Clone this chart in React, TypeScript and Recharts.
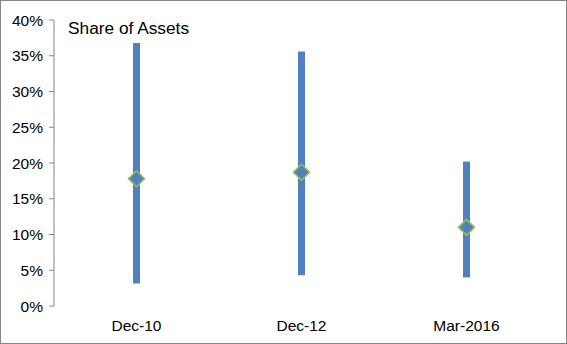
import { Bar, ComposedChart, Scatter, XAxis, YAxis } from 'recharts';

const periods = ['Dec-10', 'Dec-12', 'Mar-2016'];
const lowShare = [3.15, 4.3, 4.0];
const highShare = [36.8, 35.6, 20.2];
const midShare = [17.8, 18.7, 11.0];
const yTicks = [0, 5, 10, 15, 20, 25, 30, 35, 40];
const boundaryTicks = [0, 1, 2, 3];

const chartData = periods.map((label, i) => ({
  label,
  range: [lowShare[i], highShare[i]],
  mid: midShare[i],
}));

const axisGray = '#868686';
const font = '"Liberation Sans", Arial, sans-serif';

function Diamond(props: any) {
  const { cx, cy } = props;
  if (cx == null || cy == null) return null;
  const r = 8;
  return (
    <path
      d={`M${cx},${cy - r}L${cx + r},${cy}L${cx},${cy + r}L${cx - r},${cy}Z`}
      fill="#4F81BD"
      stroke="#9BBB59"
      strokeWidth={1.6}
    />
  );
}

export default function App() {
  return (
    <div
      style={{
        position: 'absolute',
        left: 0,
        top: 0,
        width: 567,
        height: 344,
        boxSizing: 'border-box',
        border: `1px solid ${axisGray}`,
        background: '#fff',
        fontFamily: font,
      }}
    >
      <style>{'body{margin:0}'}</style>
      <div
        style={{
          position: 'absolute',
          left: 67,
          top: 19,
          fontSize: 17.3,
          lineHeight: '17px',
          color: '#000',
          whiteSpace: 'nowrap',
        }}
      >
        Share of Assets
      </div>
      <ComposedChart
        width={567}
        height={344}
        data={chartData}
        margin={{ top: 20, right: 18, left: 0, bottom: 7 }}
        style={{ position: 'absolute', left: -1, top: -1 }}
      >
        <XAxis
          xAxisId="grid"
          type="number"
          domain={[0, 3]}
          ticks={boundaryTicks}
          tickFormatter={() => ''}
          stroke={axisGray}
          tickSize={5}
          height={0}
          allowDataOverflow
        />
        <XAxis
          xAxisId="cat"
          dataKey="label"
          axisLine={false}
          tickLine={false}
          tickSize={5}
          tickMargin={9}
          height={31}
          tick={{ fill: '#000', fontSize: 15.5, fontFamily: font }}
          interval={0}
        />
        <YAxis
          domain={[0, 40]}
          ticks={yTicks}
          tickFormatter={(v) => `${v}%`}
          width={54}
          stroke={axisGray}
          tickSize={5}
          tickMargin={6}
          tick={{ fill: '#000', fontSize: 15.5, fontFamily: font }}
          interval={0}
        />
        <Bar xAxisId="cat" dataKey="range" fill="#4F81BD" barSize={7} isAnimationActive={false} />
        <Scatter xAxisId="cat" dataKey="mid" shape={Diamond} isAnimationActive={false} />
      </ComposedChart>
    </div>
  );
}
